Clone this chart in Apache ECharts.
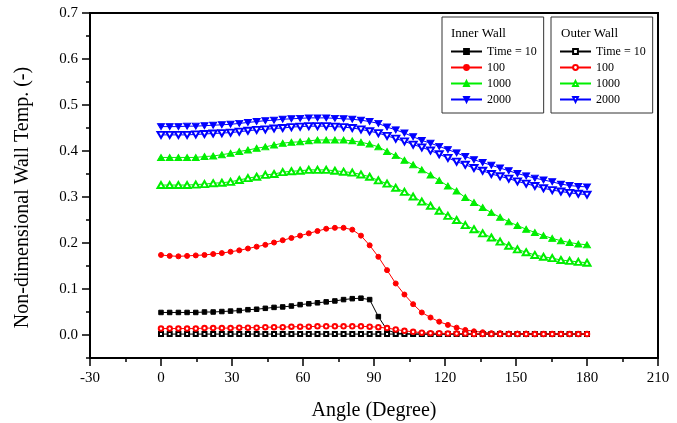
<!DOCTYPE html>
<html>
<head>
<meta charset="utf-8">
<script src="https://cdn.jsdelivr.net/npm/echarts@6/dist/echarts.min.js"></script>
<style>
html, body { margin: 0; padding: 0; background: #fff; }
#chart { width: 677px; height: 423px; }
</style>
</head>
<body>
<div id="chart"></div>
<script>
// angle of every point (degree)
var angles = [0, 3.67, 7.35, 11.02, 14.69, 18.37, 22.04, 25.71, 29.39, 33.06,
	36.73, 40.41, 44.08, 47.76, 51.43, 55.1, 58.78, 62.45, 66.12, 69.8,
	73.47, 77.14, 80.82, 84.49, 88.16, 91.84, 95.51, 99.18, 102.86, 106.53,
	110.2, 113.88, 117.55, 121.22, 124.9, 128.57, 132.24, 135.92, 139.59, 143.27,
	146.94, 150.61, 154.29, 157.96, 161.63, 165.31, 168.98, 172.65, 176.33, 180];

//内壁 Inner Wall
var in10 = [0.049, 0.049, 0.049, 0.049, 0.049, 0.050, 0.050, 0.051, 0.052, 0.053,
	0.055, 0.056, 0.058, 0.060, 0.061, 0.063, 0.066, 0.068, 0.070, 0.072,
	0.074, 0.077, 0.079, 0.080, 0.077, 0.040, 0.011, 0.004, 0.003, 0.002,
	0.002, 0.002, 0.002, 0.002, 0.002, 0.002, 0.002, 0.002, 0.002, 0.002,
	0.002, 0.002, 0.002, 0.002, 0.002, 0.002, 0.002, 0.002, 0.002, 0.002];
var in100 = [0.174, 0.172, 0.171, 0.172, 0.173, 0.174, 0.176, 0.178, 0.181, 0.184,
	0.188, 0.192, 0.196, 0.201, 0.206, 0.211, 0.216, 0.221, 0.226, 0.231,
	0.233, 0.233, 0.229, 0.216, 0.195, 0.170, 0.141, 0.112, 0.088, 0.067,
	0.049, 0.038, 0.029, 0.022, 0.016, 0.011, 0.008, 0.006, 0.004, 0.004,
	0.003, 0.003, 0.003, 0.002, 0.002, 0.002, 0.002, 0.002, 0.002, 0.002];
var in1000 = [0.386, 0.386, 0.386, 0.386, 0.386, 0.388, 0.389, 0.392, 0.395, 0.399,
	0.402, 0.406, 0.409, 0.413, 0.417, 0.419, 0.420, 0.422, 0.424, 0.424,
	0.424, 0.424, 0.422, 0.419, 0.415, 0.409, 0.399, 0.390, 0.380, 0.370,
	0.359, 0.348, 0.336, 0.324, 0.313, 0.299, 0.288, 0.277, 0.266, 0.256,
	0.246, 0.238, 0.230, 0.223, 0.216, 0.210, 0.205, 0.201, 0.198, 0.196];
var in2000 = [0.453, 0.453, 0.453, 0.454, 0.454, 0.455, 0.456, 0.457, 0.458, 0.460,
	0.462, 0.464, 0.466, 0.467, 0.469, 0.470, 0.471, 0.472, 0.472, 0.472,
	0.471, 0.470, 0.469, 0.467, 0.464, 0.460, 0.452, 0.446, 0.439, 0.431,
	0.423, 0.417, 0.410, 0.403, 0.396, 0.388, 0.381, 0.375, 0.369, 0.363,
	0.357, 0.351, 0.346, 0.341, 0.337, 0.333, 0.328, 0.325, 0.323, 0.322];

//外壁 Outer Wall
var out10 = [0.002, 0.002, 0.002, 0.002, 0.002, 0.002, 0.002, 0.002, 0.002, 0.002,
	0.002, 0.002, 0.002, 0.002, 0.002, 0.002, 0.002, 0.002, 0.002, 0.002,
	0.002, 0.002, 0.002, 0.002, 0.002, 0.002, 0.002, 0.002, 0.002, 0.002,
	0.002, 0.002, 0.002, 0.002, 0.002, 0.002, 0.002, 0.002, 0.002, 0.002,
	0.002, 0.002, 0.002, 0.002, 0.002, 0.002, 0.002, 0.002, 0.002, 0.002];
var out100 = [0.014, 0.014, 0.014, 0.014, 0.014, 0.015, 0.015, 0.015, 0.015, 0.016,
	0.016, 0.016, 0.017, 0.017, 0.017, 0.018, 0.018, 0.018, 0.019, 0.019,
	0.019, 0.019, 0.019, 0.019, 0.018, 0.017, 0.015, 0.012, 0.009, 0.007,
	0.005, 0.004, 0.004, 0.003, 0.003, 0.003, 0.002, 0.002, 0.002, 0.002,
	0.002, 0.002, 0.002, 0.002, 0.002, 0.002, 0.002, 0.002, 0.002, 0.002];
var out1000 = [0.326, 0.326, 0.326, 0.326, 0.327, 0.328, 0.330, 0.331, 0.333, 0.337,
	0.341, 0.344, 0.348, 0.350, 0.354, 0.356, 0.357, 0.359, 0.359, 0.359,
	0.357, 0.355, 0.353, 0.349, 0.344, 0.336, 0.329, 0.320, 0.311, 0.301,
	0.290, 0.281, 0.270, 0.259, 0.250, 0.239, 0.230, 0.221, 0.212, 0.203,
	0.194, 0.186, 0.180, 0.174, 0.170, 0.167, 0.163, 0.161, 0.159, 0.157];
var out2000 = [0.435, 0.435, 0.435, 0.435, 0.436, 0.437, 0.438, 0.439, 0.440, 0.442,
	0.444, 0.446, 0.447, 0.449, 0.450, 0.452, 0.453, 0.454, 0.454, 0.454,
	0.453, 0.452, 0.450, 0.447, 0.443, 0.439, 0.433, 0.427, 0.421, 0.414,
	0.408, 0.401, 0.393, 0.385, 0.377, 0.370, 0.363, 0.357, 0.350, 0.345,
	0.340, 0.334, 0.329, 0.324, 0.319, 0.315, 0.312, 0.309, 0.307, 0.305];

var yLabels = [0, 0.1, 0.2, 0.3, 0.4, 0.5, 0.6, 0.7];
// outer names carry a zero width space so both legends can say the same thing
var innerNames = ['Time = 10', '100', '1000', '2000'];
var outerNames = ['Time = 10\u200b', '100\u200b', '1000\u200b', '2000\u200b'];

var font = 'Liberation Serif';

var zip = function (ys) {
	var arr = [];
	for (var i = 0; i < angles.length; i++) {
		arr.push([angles[i], ys[i]]);
	}
	return arr;
};

var makeSeries = function (name, ys, color, symbol, size, rotate) {
	return {
		name: name,
		type: 'line',
		data: zip(ys),
		symbol: symbol,
		symbolSize: size,
		symbolRotate: rotate || 0,
		showAllSymbol: true,
		lineStyle: { color: color, width: 1 },
		itemStyle: { color: color, borderColor: color, borderWidth: 1 },
		emphasis: { disabled: true },
		animation: false
	};
};

var legendBase = function (left, names) {
	return {
		orient: 'vertical',
		left: left,
		top: 17,
		padding: [28, 7, 7, 8],
		itemGap: 3,
		itemWidth: 31,
		itemHeight: 6,
		borderColor: '#333',
		borderWidth: 1,
		selectedMode: false,
		data: names,
		formatter: function (n) { return n.replace(/\u200b/g, ''); },
		textStyle: { fontFamily: font, fontSize: 12, lineHeight: 13, color: '#000' }
	};
};

var chart = echarts.init(document.getElementById('chart'));
var option = {
	backgroundColor: '#fff',
	title: [
		{ text: 'Inner Wall', left: 451, top: 27, padding: 0,
			textStyle: { fontFamily: font, fontSize: 13, fontWeight: 'normal', color: '#000' } },
		{ text: 'Outer Wall', left: 561, top: 27, padding: 0,
			textStyle: { fontFamily: font, fontSize: 13, fontWeight: 'normal', color: '#000' } }
	],
	legend: [legendBase(442, innerNames), legendBase(551, outerNames)],
	grid: {
		left: 90, right: 19, top: 13, bottom: 65,
		outerBoundsMode: 'none',
		show: true, borderColor: '#000', borderWidth: 2
	},
	xAxis: {
		type: 'value',
		min: -30, max: 210, interval: 30,
		name: 'Angle (Degree)',
		nameLocation: 'middle',
		nameGap: 43,
		nameTextStyle: { fontFamily: font, fontSize: 20, color: '#000' },
		axisLine: { onZero: false, lineStyle: { color: '#000', width: 2 } },
		axisTick: { inside: false, length: 8, lineStyle: { color: '#000', width: 1.5 } },
		minorTick: { show: true, splitNumber: 2, length: 4, lineStyle: { color: '#000', width: 1.5 } },
		axisLabel: { margin: 13, fontFamily: font, fontSize: 15, color: '#000' },
		splitLine: { show: false }
	},
	yAxis: [{
		type: 'value',
		min: -0.05, max: 0.7,
		position: 'left',
		name: 'Non-dimensional Wall Temp. (-)',
		nameLocation: 'middle',
		nameGap: 57,
		nameTextStyle: { fontFamily: font, fontSize: 20, color: '#000', padding: [0, 24, 0, 0] },
		axisLine: { show: true, onZero: false, lineStyle: { color: '#000', width: 2 } },
		axisTick: { show: true, inside: false, length: 8, customValues: yLabels,
			lineStyle: { color: '#000', width: 1.5 } },
		axisLabel: { customValues: yLabels, margin: 12, fontFamily: font, fontSize: 15, color: '#000',
			formatter: function (v) { return v.toFixed(1); } },
		splitLine: { show: false }
	}, {
		type: 'value',
		min: -0.05, max: 0.7, interval: 0.05,
		position: 'left',
		axisLine: { show: false, onZero: false },
		axisTick: { show: true, inside: false, length: 4, lineStyle: { color: '#000', width: 1.5 } },
		axisLabel: { show: false },
		splitLine: { show: false }
	}],
	series: [
		makeSeries(innerNames[0], in10, '#000000', 'rect', 4.5),
		makeSeries(innerNames[1], in100, '#ff0000', 'circle', 5),
		makeSeries(innerNames[2], in1000, '#00ee00', 'triangle', [7, 6]),
		makeSeries(innerNames[3], in2000, '#0000ff', 'triangle', [7, 6], 180),
		makeSeries(outerNames[0], out10, '#000000', 'emptyRect', 4),
		makeSeries(outerNames[1], out100, '#ff0000', 'emptyCircle', 4.5),
		makeSeries(outerNames[2], out1000, '#00ee00', 'emptyTriangle', [7, 6]),
		makeSeries(outerNames[3], out2000, '#0000ff', 'emptyTriangle', [7, 6], 180)
	]
};
chart.setOption(option);

window.onresize = function () {
	chart.resize();
};
</script>
</body>
</html>
